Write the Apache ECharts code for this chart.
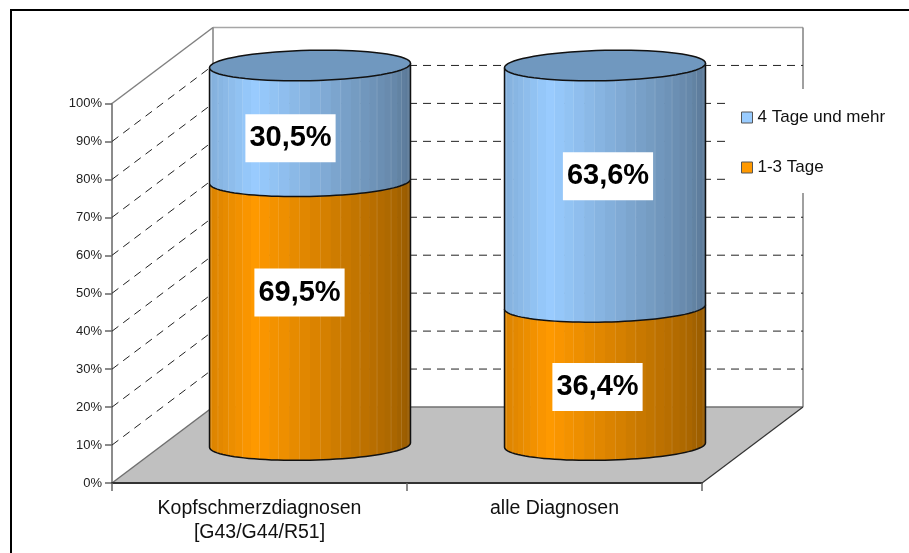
<!DOCTYPE html>
<html>
<head>
<meta charset="utf-8">
<style>
html, body { margin: 0; padding: 0; background: #fff; }
#main { width: 909px; height: 553px; }
</style>
<script src="https://cdn.jsdelivr.net/npm/echarts@6/dist/echarts.min.js"></script>
</head>
<body>
<div id="main"></div>
<script>
// chart data
const categories = ["Kopfschmerzdiagnosen\n[G43/G44/R51]", "alle Diagnosen"];
const seriesNames = ["1-3 Tage", "4 Tage und mehr"];
const shortValues = [69.5, 36.4];
const longValues = [30.5, 63.6];
const gridTicks = [10, 20, 30, 40, 50, 60, 70, 80, 90];

// look of the fake 3d box
const depthX = 101;
const depthY = -76;
const radiusX = 100.5;
const radiusY = 15.2;
const tilt = 2.2;
const fontName = '"Liberation Sans", Arial, sans-serif';
const orange = [255, 153, 0];
const blue = [153, 204, 255];

// the data labels were moved by hand in the original
const shortNudge = [[-10.5, -20.6], [-7.5, 11]];
const longNudge = [[-19.5, 15], [3, -10]];

function shade(rgb, u) {
    let f;
    if (u < 0.2) {
        f = 0.86 + (u / 0.2) * 0.14;
    } else if (u < 0.9) {
        f = 1 - ((u - 0.2) / 0.7) * 0.33;
    } else {
        f = 0.67 - ((u - 0.9) / 0.1) * 0.09;
    }
    return "rgb(" + rgb.map((c) => Math.round(c * f)).join(",") + ")";
}

function ellipsePoint(cx, cy, angle) {
    return [
        cx + radiusX * Math.cos(angle),
        cy + radiusY * Math.sin(angle) - tilt * Math.cos(angle),
    ];
}

function arcPoints(cx, cy, from, to, steps) {
    let pts = [];
    for (let i = 0; i <= steps; i++) {
        pts.push(ellipsePoint(cx, cy, from + ((to - from) * i) / steps));
    }
    return pts;
}

function renderWalls(params, api) {
    let cs = params.coordSys;
    let x0 = cs.x;
    let x1 = cs.x + cs.width;
    let y0 = cs.y;
    let y1 = cs.y + cs.height;
    let grey = { stroke: "#808080", lineWidth: 1.5, fill: null };
    let line = (a, b, c, d, style) => ({
        type: "line",
        shape: { x1: a, y1: b, x2: c, y2: d },
        style: style,
    });
    return {
        type: "group",
        children: [
            {
                type: "polygon",
                shape: {
                    points: [
                        [x0, y1],
                        [x1, y1],
                        [x1 + depthX, y1 + depthY],
                        [x0 + depthX, y1 + depthY],
                    ],
                },
                style: { fill: "#c0c0c0" },
            },
            line(x0, y0, x0 + depthX, y0 + depthY, grey),
            line(x0 + depthX, y0 + depthY, x1 + depthX, y0 + depthY, { stroke: "#a6a6a6", lineWidth: 1.5 }),
            line(x0 + depthX, y0 + depthY, x0 + depthX, y1 + depthY, grey),
            line(x1 + depthX, y0 + depthY, x1 + depthX, y1 + depthY, grey),
            line(x0, y1, x0 + depthX, y1 + depthY, { stroke: "#707070", lineWidth: 1.5 }),
            line(x0 + depthX, y1 + depthY, x1 + depthX, y1 + depthY, { stroke: "#707070", lineWidth: 1.5 }),
            line(x1, y1, x1 + depthX, y1 + depthY, { stroke: "#333", lineWidth: 1.2 }),
        ],
    };
}

function renderGridLine(params, api) {
    let cs = params.coordSys;
    let y = api.coord([0, api.value(1)])[1];
    let dash = { stroke: "#222", lineWidth: 1, lineDash: [8, 6], fill: null };
    return {
        type: "group",
        children: [
            {
                type: "line",
                shape: { x1: cs.x, y1: y, x2: cs.x + depthX, y2: y + depthY },
                style: dash,
            },
            {
                type: "line",
                shape: { x1: cs.x + depthX, y1: y + depthY, x2: cs.x + cs.width + depthX, y2: y + depthY },
                style: dash,
            },
        ],
    };
}

function cylinderRenderer(rgb, nudges, hasCap) {
    return function (params, api) {
        let cat = api.value(0);
        let bottom = api.coord([cat, api.value(1)]);
        let top = api.coord([cat, api.value(2)]);
        let mid = api.coord([cat, (api.value(1) + api.value(2)) / 2]);
        let cx = bottom[0] + depthX / 2;
        let yb = bottom[1] + depthY / 2;
        let yt = top[1] + depthY / 2;
        let children = [];
        let steps = 30;

        // body, cut in vertical strips
        for (let i = 0; i < steps; i++) {
            let a1 = Math.PI - (Math.PI * i) / steps;
            let a2 = Math.PI - (Math.PI * (i + 1)) / steps;
            let p1 = ellipsePoint(cx, yt, a1);
            let p2 = ellipsePoint(cx, yt, a2);
            let p3 = ellipsePoint(cx, yb, a2);
            let p4 = ellipsePoint(cx, yb, a1);
            let u = (p1[0] - (cx - radiusX)) / (2 * radiusX);
            let over = i < steps - 1 ? 0.6 : 0;
            children.push({
                type: "polygon",
                shape: {
                    points: [p1, [p2[0] + over, p2[1]], [p3[0] + over, p3[1]], p4],
                },
                style: { fill: shade(rgb, u) },
            });
            if (i % 2 === 1 && i < steps - 1) {
                children.push({
                    type: "line",
                    shape: { x1: p2[0], y1: p2[1], x2: p3[0], y2: p3[1] },
                    style: { stroke: "rgba(255,255,255,0.22)", lineWidth: 1 },
                });
            }
        }

        // outline, bottom arc and both sides
        let outline = [ellipsePoint(cx, yt, Math.PI)]
            .concat(arcPoints(cx, yb, Math.PI, 0, 48))
            .concat([ellipsePoint(cx, yt, 0)]);
        children.push({
            type: "polyline",
            shape: { points: outline },
            style: { stroke: "#111", lineWidth: 1.5, fill: null },
        });

        if (hasCap) {
            children.push({
                type: "polygon",
                shape: { points: arcPoints(cx, yt, 0, Math.PI * 2, 72) },
                style: { fill: "#7098bf", stroke: "#111", lineWidth: 1.5 },
            });
        }

        let nudge = nudges[params.dataIndex];
        children.push({
            type: "text",
            z2: 50,
            style: {
                text: api.value(3).toFixed(1).replace(".", ",") + "%",
                x: cx + nudge[0],
                y: mid[1] + depthY / 2 + nudge[1],
                align: "center",
                verticalAlign: "middle",
                font: "bold 29px " + fontName,
                fill: "#000",
                backgroundColor: "#fff",
                padding: [9, 4],
                lineHeight: 30,
            },
        });
        return { type: "group", children: children };
    };
}

let shortData = categories.map((c, i) => [i, 0, shortValues[i], shortValues[i]]);
let longData = categories.map((c, i) => [i, shortValues[i], shortValues[i] + longValues[i], longValues[i]]);

let myChart = echarts.init(document.getElementById("main"), null, {
    renderer: "canvas",
});

let option = {
    animation: false,
    backgroundColor: "#fff",
    textStyle: { fontFamily: fontName },
    graphic: [{
        type: "rect",
        silent: true,
        shape: { x: 11, y: 10, width: 950, height: 600 },
        style: { fill: "none", stroke: "#000", lineWidth: 2 },
    }],
    legend: {
        data: [seriesNames[1], seriesNames[0]],
        orient: "vertical",
        left: 728,
        top: 89,
        backgroundColor: "#fff",
        padding: [19, 5, 16, 13],
        itemWidth: 11,
        itemHeight: 11,
        itemGap: 31,
        icon: "rect",
        itemStyle: { borderColor: "#555", borderWidth: 1 },
        textStyle: { fontSize: 17, lineHeight: 19, color: "#111", fontFamily: fontName },
    },
    grid: {
        left: 112,
        top: 103.5,
        width: 590,
        height: 379.5,
    },
    xAxis: {
        type: "category",
        data: categories,
        axisLine: { lineStyle: { color: "#333", width: 2 } },
        axisTick: { show: true, alignWithLabel: false, length: 8, lineStyle: { color: "#666", width: 1.5 } },
        axisLabel: { fontSize: 19.5, color: "#111", lineHeight: 24, margin: 14, fontFamily: fontName },
        z: 5,
    },
    yAxis: {
        type: "value",
        min: 0,
        max: 100,
        interval: 10,
        splitLine: { show: false },
        axisLine: { show: true, lineStyle: { color: "#666", width: 1.5 } },
        axisTick: { show: true, length: 7, lineStyle: { color: "#666", width: 1.5 } },
        axisLabel: { formatter: "{value}%", fontSize: 13, color: "#222", margin: 10, fontFamily: fontName },
    },
    series: [
        {
            type: "custom",
            silent: true,
            z: 1,
            data: [[0, 0]],
            renderItem: renderWalls,
        },
        {
            type: "custom",
            silent: true,
            z: 1,
            data: gridTicks.map((t) => [0, t]),
            renderItem: renderGridLine,
        },
        {
            name: seriesNames[0],
            type: "custom",
            z: 2,
            itemStyle: { color: "#ff9900" },
            data: shortData,
            renderItem: cylinderRenderer(orange, shortNudge, false),
        },
        {
            name: seriesNames[1],
            type: "custom",
            z: 3,
            itemStyle: { color: "#99ccff" },
            data: longData,
            renderItem: cylinderRenderer(blue, longNudge, true),
        },
    ],
};

myChart.setOption(option);
window.addEventListener("resize", myChart.resize);
</script>
</body>
</html>
